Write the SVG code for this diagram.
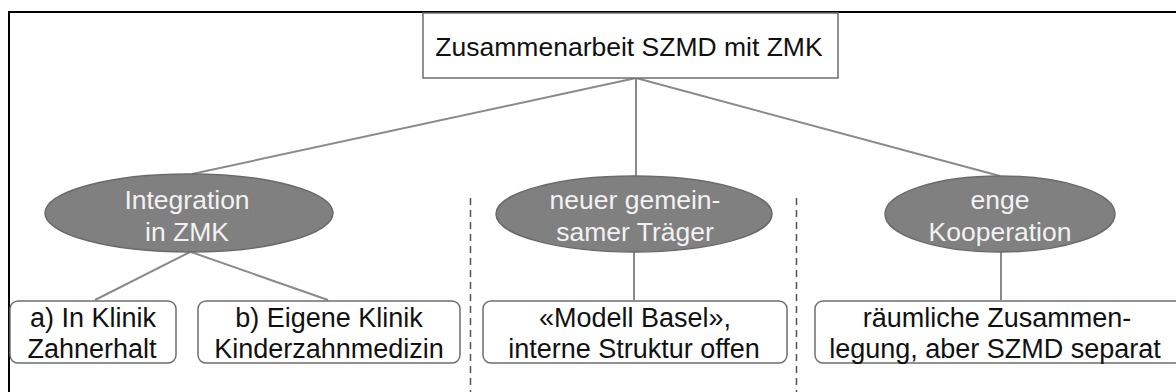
<svg xmlns="http://www.w3.org/2000/svg" width="1176" height="392" viewBox="0 0 1176 392">
  <style>
    .frame { fill: none; stroke: #000; stroke-width: 2; }
    .root { fill: #fff; stroke: #6e6e6e; stroke-width: 1.5; }
    .cat { fill: #808080; stroke: #6a6a6a; stroke-width: 1.5; }
    .leaf { fill: #fff; stroke: #6e6e6e; stroke-width: 1.5; }
    .link { stroke: #8a8a8a; stroke-width: 2; fill: none; }
    .divider { stroke: #555; stroke-width: 1.5; stroke-dasharray: 7 5; fill: none; }
    text { font-family: "Liberation Sans", Arial, sans-serif; font-size: 27px; text-anchor: middle; }
    .dark { fill: #111; }
    .light { fill: #f2f2f2; font-size: 26.5px; }
    .title { font-size: 26.5px; }
  </style>

  <!-- outer frame (top and left edges) -->
  <path class="frame" d="M9 392 V12 H1176"/>

  <!-- dashed separators between the three options -->
  <g id="dividers">
    <line class="divider" x1="470.5" y1="198" x2="470.5" y2="392"/>
    <line class="divider" x1="796.5" y1="198" x2="796.5" y2="392"/>
  </g>

  <g id="connectors">
    <line class="link" x1="636" y1="78" x2="192" y2="174"/>
    <line class="link" x1="636" y1="78" x2="636" y2="176"/>
    <line class="link" x1="636" y1="78" x2="1000" y2="176"/>
    <line class="link" x1="190" y1="252" x2="95" y2="300"/>
    <line class="link" x1="191" y1="252" x2="328" y2="300"/>
    <line class="link" x1="634" y1="252" x2="634" y2="300"/>
    <line class="link" x1="1001" y1="252" x2="1001" y2="300"/>
  </g>

  <g id="root">
    <rect class="root" x="423" y="13" width="415" height="65"/>
    <text class="dark title" x="629" y="56">Zusammenarbeit SZMD mit ZMK</text>
  </g>

  <g id="opt-integration">
    <ellipse class="cat" cx="189" cy="213" rx="144" ry="39"/>
    <text class="light" x="187" y="209">Integration</text>
    <text class="light" x="187" y="241">in ZMK</text>
  </g>

  <g id="opt-traeger">
    <ellipse class="cat" cx="634" cy="214" rx="138" ry="38"/>
    <text class="light" x="635" y="209">neuer gemein-</text>
    <text class="light" x="635" y="241">samer Träger</text>
  </g>

  <g id="opt-kooperation">
    <ellipse class="cat" cx="1000" cy="214" rx="115" ry="38"/>
    <text class="light" x="1000" y="209">enge</text>
    <text class="light" x="1000" y="241">Kooperation</text>
  </g>

  <g id="leaf-zahnerhalt">
    <rect class="leaf" x="10" y="301" width="166" height="62" rx="8"/>
    <text class="dark" x="93" y="327">a) In Klinik</text>
    <text class="dark" x="92" y="358">Zahnerhalt</text>
  </g>

  <g id="leaf-kinderzahnmedizin">
    <rect class="leaf" x="198" y="301" width="262" height="62" rx="8"/>
    <text class="dark" x="329" y="327">b) Eigene Klinik</text>
    <text class="dark" x="329" y="358">Kinderzahnmedizin</text>
  </g>

  <g id="leaf-basel">
    <rect class="leaf" x="483" y="301" width="304" height="62" rx="8"/>
    <text class="dark" x="635" y="327">«Modell Basel»,</text>
    <text class="dark" x="634" y="358">interne Struktur offen</text>
  </g>

  <g id="leaf-raeumlich">
    <rect class="leaf" x="815" y="301" width="372" height="62" rx="8"/>
    <text class="dark" x="997" y="327">räumliche Zusammen-</text>
    <text class="dark" x="995" y="358">legung, aber SZMD separat</text>
  </g>
</svg>
